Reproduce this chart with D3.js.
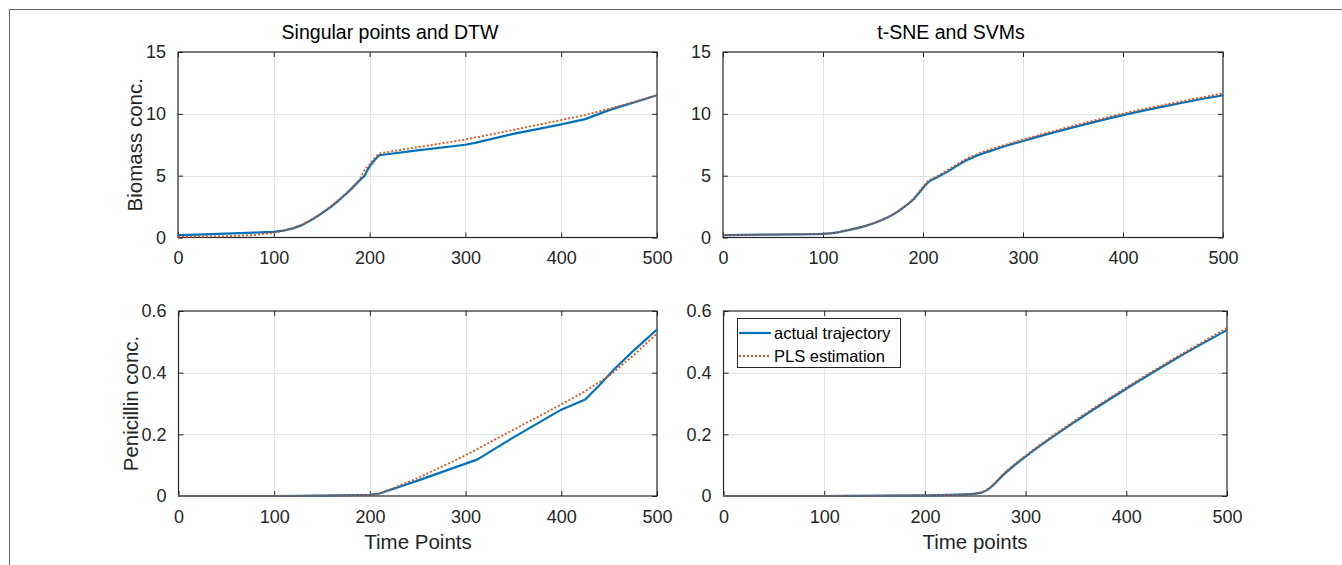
<!DOCTYPE html>
<html>
<head>
<meta charset="utf-8">
<script src="https://cdn.jsdelivr.net/npm/d3@7"></script>
<style>
  html, body { margin: 0; padding: 0; background: #fff; }
  svg { display: block; font-family: "Liberation Sans", Arial, Helvetica, sans-serif; }
</style>
</head>
<body>
<svg id="chart" width="1342" height="565"></svg>
<script>
// ---------------- data ----------------
const panelTitles = ["Singular points and DTW", "t-SNE and SVMs", "", ""];
const yLabels = ["Biomass conc.", "", "Penicillin conc.", ""];
const xLabels = ["", "", "Time Points", "Time points"];
const legendLabels = ["actual trajectory", "PLS estimation"];

const xTicks = [0, 100, 200, 300, 400, 500];
const biomassTicks = [0, 5, 10, 15];
const penicillinTicks = [0, 0.2, 0.4, 0.6];
const penicillinTickLabels = ["0", "0.2", "0.4", "0.6"];

// Top-left: Singular points and DTW, biomass
const tlActualX = [0, 20, 50, 80, 100, 110, 120, 130, 140, 150, 160, 170, 180, 190, 195, 197, 200, 205, 210, 250, 300, 310, 350, 400, 425, 450, 475, 500];
const tlActualY = [0.19, 0.24, 0.32, 0.40, 0.46, 0.56, 0.74, 1.02, 1.45, 1.95, 2.5, 3.15, 3.85, 4.65, 5.0, 5.35, 5.75, 6.25, 6.65, 7.05, 7.5, 7.65, 8.38, 9.15, 9.57, 10.3, 10.9, 11.5];
const tlEstX = [0, 50, 80, 100, 110, 120, 130, 140, 150, 160, 170, 180, 190, 195, 200, 205, 210, 250, 300, 350, 400, 425, 450, 475, 500];
const tlEstY = [0.05, 0.1, 0.2, 0.38, 0.55, 0.76, 1.06, 1.5, 2.0, 2.55, 3.2, 3.9, 4.75, 5.5, 5.9, 6.4, 6.8, 7.3, 7.92, 8.7, 9.5, 9.9, 10.4, 10.95, 11.5];

// Top-right: t-SNE and SVMs, biomass
const trActualX = [0, 50, 100, 115, 125, 140, 150, 160, 170, 180, 190, 200, 205, 215, 225, 235, 245, 255, 275, 300, 350, 400, 450, 500];
const trActualY = [0.19, 0.24, 0.3, 0.42, 0.59, 0.88, 1.13, 1.45, 1.85, 2.4, 3.05, 4.0, 4.45, 4.9, 5.35, 5.85, 6.3, 6.65, 7.2, 7.8, 8.9, 9.9, 10.75, 11.5];
const trEstX = [0, 50, 100, 115, 125, 140, 150, 160, 170, 180, 190, 200, 205, 215, 225, 235, 245, 255, 275, 300, 350, 400, 450, 500];
const trEstY = [0.19, 0.24, 0.3, 0.42, 0.6, 0.9, 1.15, 1.47, 1.88, 2.43, 3.1, 4.1, 4.55, 5.0, 5.47, 5.97, 6.43, 6.78, 7.32, 7.92, 9.02, 10.02, 10.87, 11.65];

// Bottom-left: Singular points and DTW, penicillin
const blActualX = [0, 100, 150, 200, 210, 250, 300, 312, 350, 400, 425, 440, 455, 475, 500];
const blActualY = [0, 0, 0.001, 0.004, 0.008, 0.05, 0.105, 0.118, 0.19, 0.28, 0.313, 0.36, 0.41, 0.47, 0.54];
const blEstX = [0, 100, 150, 200, 210, 250, 300, 350, 400, 425, 450, 475, 500];
const blEstY = [0, 0, 0.001, 0.003, 0.008, 0.058, 0.132, 0.215, 0.297, 0.34, 0.39, 0.455, 0.527];

// Bottom-right: t-SNE and SVMs, penicillin
const brActualX = [0, 100, 200, 240, 255, 262, 280, 300, 350, 400, 450, 500];
const brActualY = [0, 0, 0.002, 0.005, 0.01, 0.02, 0.075, 0.128, 0.243, 0.348, 0.447, 0.538];
const brEstX = [0, 100, 200, 240, 255, 262, 280, 300, 350, 400, 450, 500];
const brEstY = [0, 0, 0.002, 0.005, 0.011, 0.022, 0.078, 0.131, 0.247, 0.352, 0.451, 0.545];

// ---------------- layout ----------------
const svg = d3.select("#chart");
const AX = "#262626", GRID = "#e3e3e3", BLUE = "#0072BD", ORANGE = "#D95319";

// outer frame (top and left edges)
svg.append("line").attr("x1", 9).attr("x2", 1342).attr("y1", 9.5).attr("y2", 9.5)
  .attr("stroke", "#606060").attr("stroke-width", 1);
svg.append("line").attr("x1", 9.5).attr("x2", 9.5).attr("y1", 9).attr("y2", 565)
  .attr("stroke", "#606060").attr("stroke-width", 1);

const zip = (xs, ys) => xs.map((x, i) => [x, ys[i]]);

const panels = [
  { box: [178, 657, 52, 237.5], yDomain: [0, 15], yTicks: biomassTicks, yFmt: d => String(d), smooth: false,
    actual: zip(tlActualX, tlActualY), est: zip(tlEstX, tlEstY), titleX: 390, ylabX: 142, xlabX: null },
  { box: [723, 1223, 52, 237.5], yDomain: [0, 15], yTicks: biomassTicks, yFmt: d => String(d), smooth: true,
    actual: zip(trActualX, trActualY), est: zip(trEstX, trEstY), titleX: 951, ylabX: null, xlabX: null },
  { box: [178.5, 657, 311, 496], yDomain: [0, 0.6], yTicks: penicillinTicks, yFmt: (d, i) => penicillinTickLabels[i], smooth: false,
    actual: zip(blActualX, blActualY), est: zip(blEstX, blEstY), titleX: null, ylabX: 138, xlabX: 418 },
  { box: [723.5, 1227, 311, 496], yDomain: [0, 0.6], yTicks: penicillinTicks, yFmt: (d, i) => penicillinTickLabels[i], smooth: true,
    actual: zip(brActualX, brActualY), est: zip(brEstX, brEstY), titleX: null, ylabX: null, xlabX: 975 }
];

panels.forEach((p, idx) => {
  const [x0, x1, y0, y1] = p.box;
  const x = d3.scaleLinear().domain([0, 500]).range([x0, x1]);
  const y = d3.scaleLinear().domain(p.yDomain).range([y1, y0]);
  const g = svg.append("g");

  // grid
  g.append("g").selectAll("line").data(xTicks.slice(1, -1)).join("line")
    .attr("x1", d => Math.round(x(d)) + 0.5).attr("x2", d => Math.round(x(d)) + 0.5)
    .attr("y1", y0).attr("y2", y1).attr("stroke", GRID).attr("stroke-width", 1);
  g.append("g").selectAll("line").data(p.yTicks.slice(1, -1)).join("line")
    .attr("y1", d => Math.round(y(d)) + 0.5).attr("y2", d => Math.round(y(d)) + 0.5)
    .attr("x1", x0).attr("x2", x1).attr("stroke", GRID).attr("stroke-width", 1);

  // axes via d3 (ticks inward)
  const fs = "18px";
  const bottom = g.append("g").attr("transform", `translate(0,${y1})`)
    .call(d3.axisBottom(x).tickValues(xTicks).tickSize(-5).tickPadding(14).tickFormat(d3.format("d")));
  const top = g.append("g").attr("transform", `translate(0,${y0})`)
    .call(d3.axisTop(x).tickValues(xTicks).tickSize(-5).tickFormat(""));
  const left = g.append("g").attr("transform", `translate(${x0},0)`)
    .call(d3.axisLeft(y).tickValues(p.yTicks).tickSize(-5).tickPadding(12).tickFormat(p.yFmt));
  const right = g.append("g").attr("transform", `translate(${x1},0)`)
    .call(d3.axisRight(y).tickValues(p.yTicks).tickSize(-5).tickFormat(""));
  [bottom, top, left, right].forEach(a => {
    a.select(".domain").attr("d", null);
    a.selectAll(".tick line").attr("stroke", AX).attr("stroke-width", 1);
    a.selectAll(".tick text").attr("fill", AX).style("font-size", fs)
      .style("font-family", '"Liberation Sans", Arial, sans-serif');
  });
  // box
  g.append("rect").attr("x", x0).attr("y", y0).attr("width", x1 - x0).attr("height", y1 - y0)
    .attr("fill", "none").attr("stroke", AX).attr("stroke-width", 1.2);

  // lines
  const line = d3.line().x(d => x(d[0])).y(d => y(d[1]))
    .curve(p.smooth ? d3.curveMonotoneX : d3.curveLinear);
  g.append("path").datum(p.actual).attr("d", line)
    .attr("fill", "none").attr("stroke", BLUE).attr("stroke-width", 2.2).attr("stroke-linejoin", "round");
  g.append("path").datum(p.est).attr("d", line)
    .attr("fill", "none").attr("stroke", ORANGE).attr("stroke-width", 1.8).attr("stroke-dasharray", "2,2");

  // texts
  if (panelTitles[idx]) {
    svg.append("text").attr("x", p.titleX).attr("y", 39).attr("text-anchor", "middle")
      .attr("fill", "#000").style("font-size", "19.5px").text(panelTitles[idx]);
  }
  if (yLabels[idx]) {
    const cy = (y0 + y1) / 2;
    svg.append("text").attr("transform", `translate(${p.ylabX},${cy}) rotate(-90)`)
      .attr("text-anchor", "middle").attr("fill", AX).style("font-size", "20.5px").text(yLabels[idx]);
  }
  if (xLabels[idx]) {
    svg.append("text").attr("x", p.xlabX).attr("y", 549).attr("text-anchor", "middle")
      .attr("fill", AX).style("font-size", "20.5px").text(xLabels[idx]);
  }

  // legend in bottom-right panel
  if (idx === 3) {
    const lg = svg.append("g");
    lg.append("rect").attr("x", 737.5).attr("y", 318.5).attr("width", 163).attr("height", 49)
      .attr("fill", "#fff").attr("stroke", AX).attr("stroke-width", 1);
    const rows = [
      { label: legendLabels[0], color: BLUE, dash: null, w: 2.2, cy: 333 },
      { label: legendLabels[1], color: ORANGE, dash: "2,2", w: 1.8, cy: 356 }
    ];
    rows.forEach(r => {
      lg.append("line").attr("x1", 739).attr("x2", 771).attr("y1", r.cy).attr("y2", r.cy)
        .attr("stroke", r.color).attr("stroke-width", r.w).attr("stroke-dasharray", r.dash);
      lg.append("text").attr("x", 774).attr("y", r.cy + 6).attr("fill", "#000")
        .style("font-size", "16.5px").text(r.label);
    });
  }
});
</script>
</body>
</html>
